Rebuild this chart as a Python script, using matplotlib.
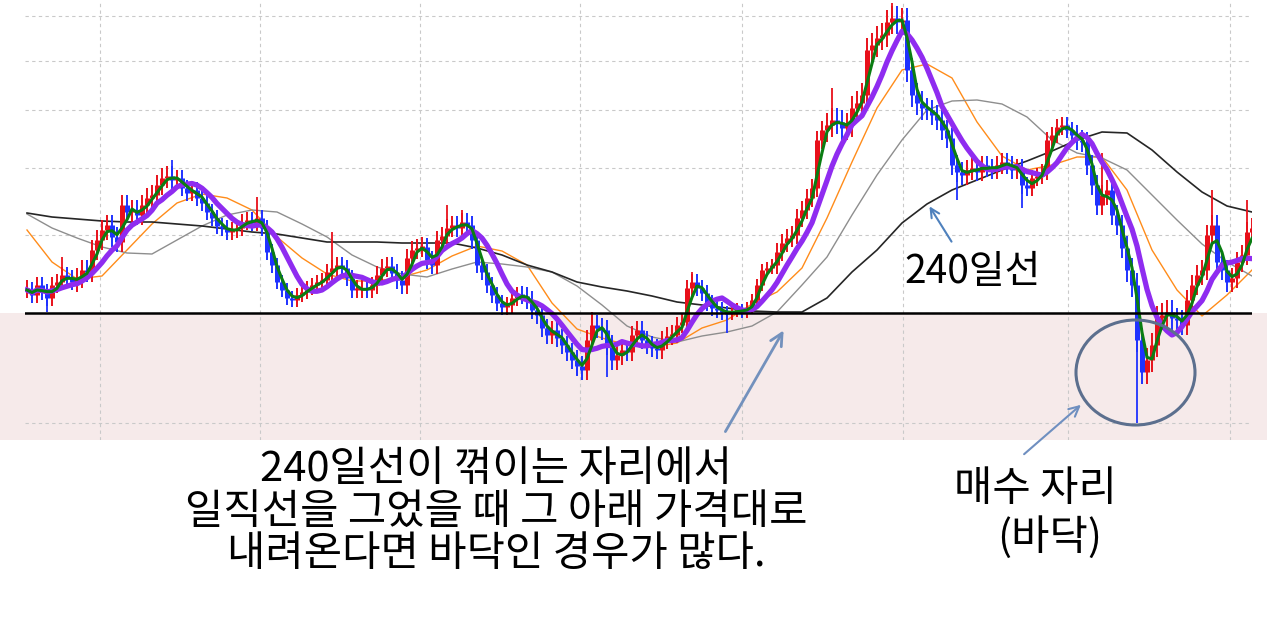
import numpy as np
import pandas as pd
import matplotlib
matplotlib.use('Agg')
import matplotlib.pyplot as plt
from matplotlib.patches import Ellipse, Rectangle

plt.rcParams['font.family'] = ['Noto Sans CJK KR', 'DejaVu Sans']

#######################
# data (level 0 = bottom edge of the chart, one candle every 5 px)
close = [150, 145, 155, 148, 142, 155, 158, 165, 162, 158,
         162, 170, 168, 190, 200, 210, 215, 203, 198, 235,
         228, 230, 225, 235, 242, 245, 255, 262, 264, 260,
         262, 252, 247, 250, 242, 237, 228, 222, 214, 212,
         208, 210, 212, 218, 220, 217, 222, 212, 188, 175,
         158, 150, 142, 140, 145, 148, 152, 155, 158, 160,
         168, 172, 175, 172, 162, 150, 150, 152, 150, 155,
         165, 172, 174, 167, 160, 155, 182, 190, 192, 193,
         180, 175, 200, 204, 212, 215, 212, 218, 215, 200,
         175, 168, 155, 145, 137, 133, 135, 142, 145, 144,
         140, 130, 125, 112, 105, 110, 102, 95, 88, 80,
         74, 70, 100, 115, 112, 110, 95, 80, 85, 90,
         88, 105, 110, 100, 95, 92, 90, 100, 104, 105,
         115, 118, 152, 158, 152, 147, 137, 132, 130, 128,
         126, 129, 130, 128, 132, 140, 155, 170, 172, 175,
         188, 197, 202, 205, 222, 230, 242, 252, 300, 310,
         315, 320, 318, 312, 315, 332, 337, 345, 390, 395,
         402, 405, 418, 422, 418, 420, 370, 345, 337, 332,
         330, 325, 320, 310, 302, 275, 268, 265, 270, 272,
         268, 275, 272, 270, 275, 278, 275, 270, 272, 255,
         252, 262, 264, 268, 300, 305, 313, 315, 310, 305,
         300, 298, 275, 255, 235, 245, 250, 225, 215, 192,
         170, 155, 100, 68, 80, 95, 122, 125, 128, 122,
         120, 115, 140, 155, 165, 170, 205, 215, 178, 170,
         158, 162, 178, 185, 208, 212]

# typical wick length for each stretch of 10 candles
wick = [8, 10, 10, 8, 8, 7, 8, 9, 9, 8, 9, 10, 9, 8, 6, 9, 12, 12, 10, 9, 8, 10, 12, 10, 10]

# long wicks: candle index, level
spike_idx = [4, 7, 29, 46, 61, 84, 87, 110, 113, 116, 133, 140, 161, 173, 186, 199, 215, 222, 237, 244]
spike_lvl = [128, 183, 280, 243, 208, 235, 230, 65, 128, 63, 168, 107, 352, 437, 240, 232, 287, 17, 250, 240]

# long moving averages, read every 5th candle
ma_idx = list(range(0, 246, 5))
ma60 = [210, 178, 161, 164, 190, 216, 237, 246, 242, 230, 203, 182, 166, 159, 159, 163, 170,
        184, 194, 189, 175, 137, 111, 102, 95, 93, 97, 112, 120, 136, 148, 172, 222, 278,
        332, 370, 376, 362, 318, 284, 270, 275, 283, 283, 250, 190, 150, 124, 145, 170]
ma120 = [226, 212, 202, 193, 187, 186, 200, 214, 225, 230, 228, 216, 203, 185, 173, 166, 163,
         171, 178, 176, 173, 168, 154, 135, 114, 103, 98, 104, 108, 114, 128, 155, 183, 225,
         265, 300, 330, 339, 340, 336, 323, 300, 287, 282, 270, 245, 220, 196, 178, 164]
ma240 = [227, 223, 221, 219, 218, 218, 216, 214, 211, 208, 206, 202, 198, 198, 198, 197, 197,
         197, 192, 185, 175, 168, 158, 153, 149, 144, 138, 135, 132, 129, 128, 128, 142, 168,
         190, 217, 236, 250, 260, 270, 279, 289, 300, 308, 307, 290, 268, 248, 234, 228]

base_level = 127
hgrid = [17, 127, 205, 272, 330, 379, 424]
vgrid = [14.6, 46.6, 78.6, 110.6, 143, 175.2, 208.2, 240.6]
#######################

fig = plt.figure(figsize=(12.67, 6.23), dpi=100)

# pink band behind the lower part of the chart
bg = fig.add_axes([0, 0, 1, 1], zorder=0)
bg.set_xlim(0, 1)
bg.set_ylim(0, 1)
bg.axis('off')
bg.add_patch(Rectangle((0, 183 / 623.), 1, 127 / 623., facecolor='#f6eaea', edgecolor='none'))

ax = fig.add_axes([25 / 1267., 183 / 623., 1227 / 1267., 440 / 623.], zorder=1)
ax.set_facecolor('none')
ax.set_xlim(-0.4, 245)
ax.set_ylim(0, 440)
for s in ax.spines.values():
    s.set_visible(False)
ax.set_xticks([])
ax.set_yticks([])

for g in hgrid:
    ax.axhline(g, color='#c9c9c9', lw=0.8, dashes=(3, 3), zorder=1)
for g in vgrid:
    ax.axvline(g, color='#c9c9c9', lw=0.8, dashes=(3, 3), zorder=1)

# long MAs
ax.plot(ma_idx, ma60, color='#ff8c1a', lw=1.0, zorder=2)
ax.plot(ma_idx, ma120, color='#8e8e8e', lw=1.0, zorder=2)
ax.plot(ma_idx, ma240, color='#262626', lw=1.2, zorder=2)

# candles
c = np.array(close, dtype=float)
o = np.r_[c[0], c[:-1]]
x = np.arange(len(c))
up = c >= o
cols = np.where(up, '#e8101a', '#1f32ff')
lo = np.minimum(o, c)
hi = np.maximum(o, c)
hi = np.where(hi - lo < 2, lo + 2, hi)
w = np.array(wick, dtype=float)[x // 10]
ax.vlines(x, lo - w, hi + w, colors=cols, lw=1.4, zorder=3)
ax.vlines(x, lo, hi, colors=cols, lw=3.6, zorder=3)
sp_i = np.array(spike_idx)
sp_v = np.array(spike_lvl, dtype=float)
ax.vlines(sp_i, np.minimum(sp_v, c[sp_i]), np.maximum(sp_v, c[sp_i]),
          colors=cols[sp_i], lw=1.3, zorder=3)

# short MAs
s = pd.Series(c)
ax.plot(x, s.rolling(8, min_periods=1).mean(), color='#8f2cf0', lw=3.8, zorder=4)
ax.plot(x, s.rolling(3, min_periods=1).mean(), color='#0a7d12', lw=2.2, zorder=5)

ax.axhline(base_level, color='black', lw=1.8, zorder=6)

#######################
# annotations, in picture pixels
ov = fig.add_axes([0, 0, 1, 1], zorder=2)
ov.set_xlim(0, 1267)
ov.set_ylim(623, 0)
ov.axis('off')

ov.annotate('', xy=(928, 204), xytext=(953, 244),
            arrowprops=dict(arrowstyle='->', color='#4f81bd', lw=1.5, mutation_scale=16))
ov.annotate('', xy=(785, 328), xytext=(724, 434),
            arrowprops=dict(arrowstyle='->', color='#7391bd', lw=2.0, mutation_scale=22))
ov.annotate('', xy=(1083, 403), xytext=(1022, 456),
            arrowprops=dict(arrowstyle='->', color='#6f8fc0', lw=1.5, mutation_scale=18))

ov.add_patch(Ellipse((1135.5, 372.5), 119, 105, fill=False, edgecolor='#5c6f8e', lw=2.2))

ov.text(973, 272, '240일선', fontsize=28, ha='center', va='center', color='black')
ov.text(496, 512, '240일선이 꺾이는 자리에서\n일직선을 그었을 때 그 아래 가격대로\n내려온다면 바닥인 경우가 많다.',
        fontsize=30, ha='center', va='center', multialignment='center',
        linespacing=1.04, color='black')
ov.text(1035, 490, '매수 자리', fontsize=30, ha='center', va='center', color='black')
ov.text(1050, 537, '(바닥)', fontsize=30, ha='center', va='center', color='black')

fig.savefig('out.png', dpi=100)
